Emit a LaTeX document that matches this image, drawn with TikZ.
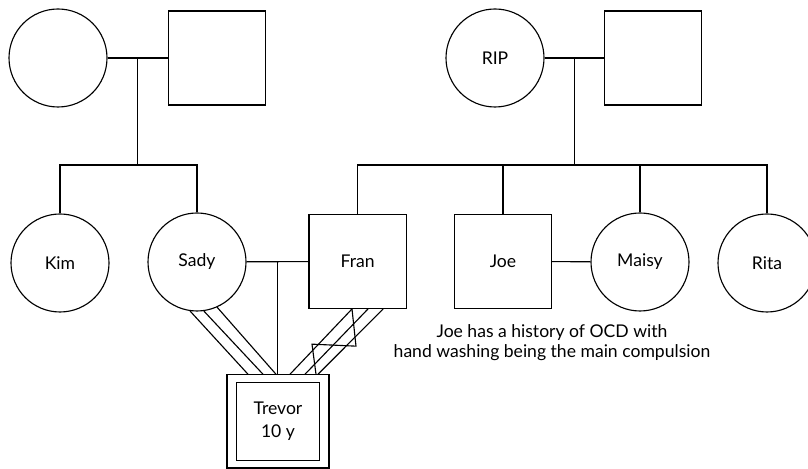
\documentclass[tikz,border=0pt]{standalone}
\usepackage{fontspec}
\setmainfont{Lato}
\usetikzlibrary{calc}

\begin{document}
\begin{tikzpicture}[
    line width=0.8pt,
    every node/.style={font=\fontsize{12.5}{14.4}\selectfont},
    female/.style={draw, circle, minimum size=2.45cm, inner sep=0pt},
    male/.style={draw, rectangle, minimum width=2.43cm, minimum height=2.35cm, inner sep=0pt}
]
\useasboundingbox (0,0) rectangle (20.2,11.725);

% === Generation 1: grandparents ===
\node[female] (gma)  at (1.45, 10.275) {};
\node[male]   (gpa)  at (5.425, 10.275) {};
\node[female] (rip)  at (12.375, 10.275) {RIP};
\node[male]   (rgpa) at (16.325, 10.275) {};

% === Generation 2 ===
\node[female] (kim)   at (1.5, 5.15) {Kim};
\node[female] (sady)  at (4.925, 5.175) {Sady};
\node[male]   (fran)  at (8.94, 5.19) {Fran};
\node[male]   (joe)   at (12.575, 5.19) {Joe};
\node[female] (maisy) at (16.0, 5.175) {Maisy};
\node[female] (rita)  at (19.175, 5.15) {Rita};

% === Generation 3: index child (double square) ===
\node[male, minimum width=2.55cm, minimum height=2.33cm, align=center] (trevor)
    at (6.95, 1.19) {Trevor\\[2pt]10 y};
\draw ([shift={(0.25,0.2)}]trevor.south west) rectangle ([shift={(-0.25,-0.2)}]trevor.north east);

% Marriage lines
\coordinate (m1) at ($(gma.east)!0.5!(gpa.west)$);
\coordinate (m2) at ($(rip.east)!0.5!(rgpa.west)$);
\coordinate (m3) at ($(sady.east)!0.5!(fran.west)$);
\draw (gma) -- (gpa);
\draw (rip) -- (rgpa);
\draw (sady) -- (fran);
\draw (joe) -- (maisy);

% Sibship lines
\coordinate (s1) at ($(m1)+(0,-2.675)$);
\coordinate (s2) at ($(m2)+(0,-2.675)$);
\draw (m1) -- (s1);
\draw (kim.north) |- (s1) -| (sady.north);
\draw (m2) -- (s2);
\draw (fran.north) |- (s2) -| (rita.north);
\draw (joe.north) -- (joe.north |- s2);
\draw (maisy.north) -- (maisy.north |- s2);

% Child line
\draw (m3) -- (m3 |- trevor.north);

% Close relationships (triple lines)
\foreach \a/\dx in {-98/-0.75, -82/-0.375, -66/-0.05} {
    \draw (sady.\a) -- ([xshift=\dx cm]trevor.north);
}
\foreach \s/\e in {-0.14/0.3, 0.26/0.675, 0.64/1.0} {
    \draw ([xshift=\s cm]fran.south) -- ([xshift=\e cm]trevor.north);
}
% Conflict zigzag
\draw ([xshift=-0.14cm]fran.south) -- ++(0.1,-0.93) -- ++(-1.1,0.05) -- ([xshift=0.95cm]trevor.north);

% Note
\node[align=center] (note) at (13.8, 3.15)
    {Joe has a history of OCD with\\hand washing being the main compulsion};

\end{tikzpicture}
\end{document}
